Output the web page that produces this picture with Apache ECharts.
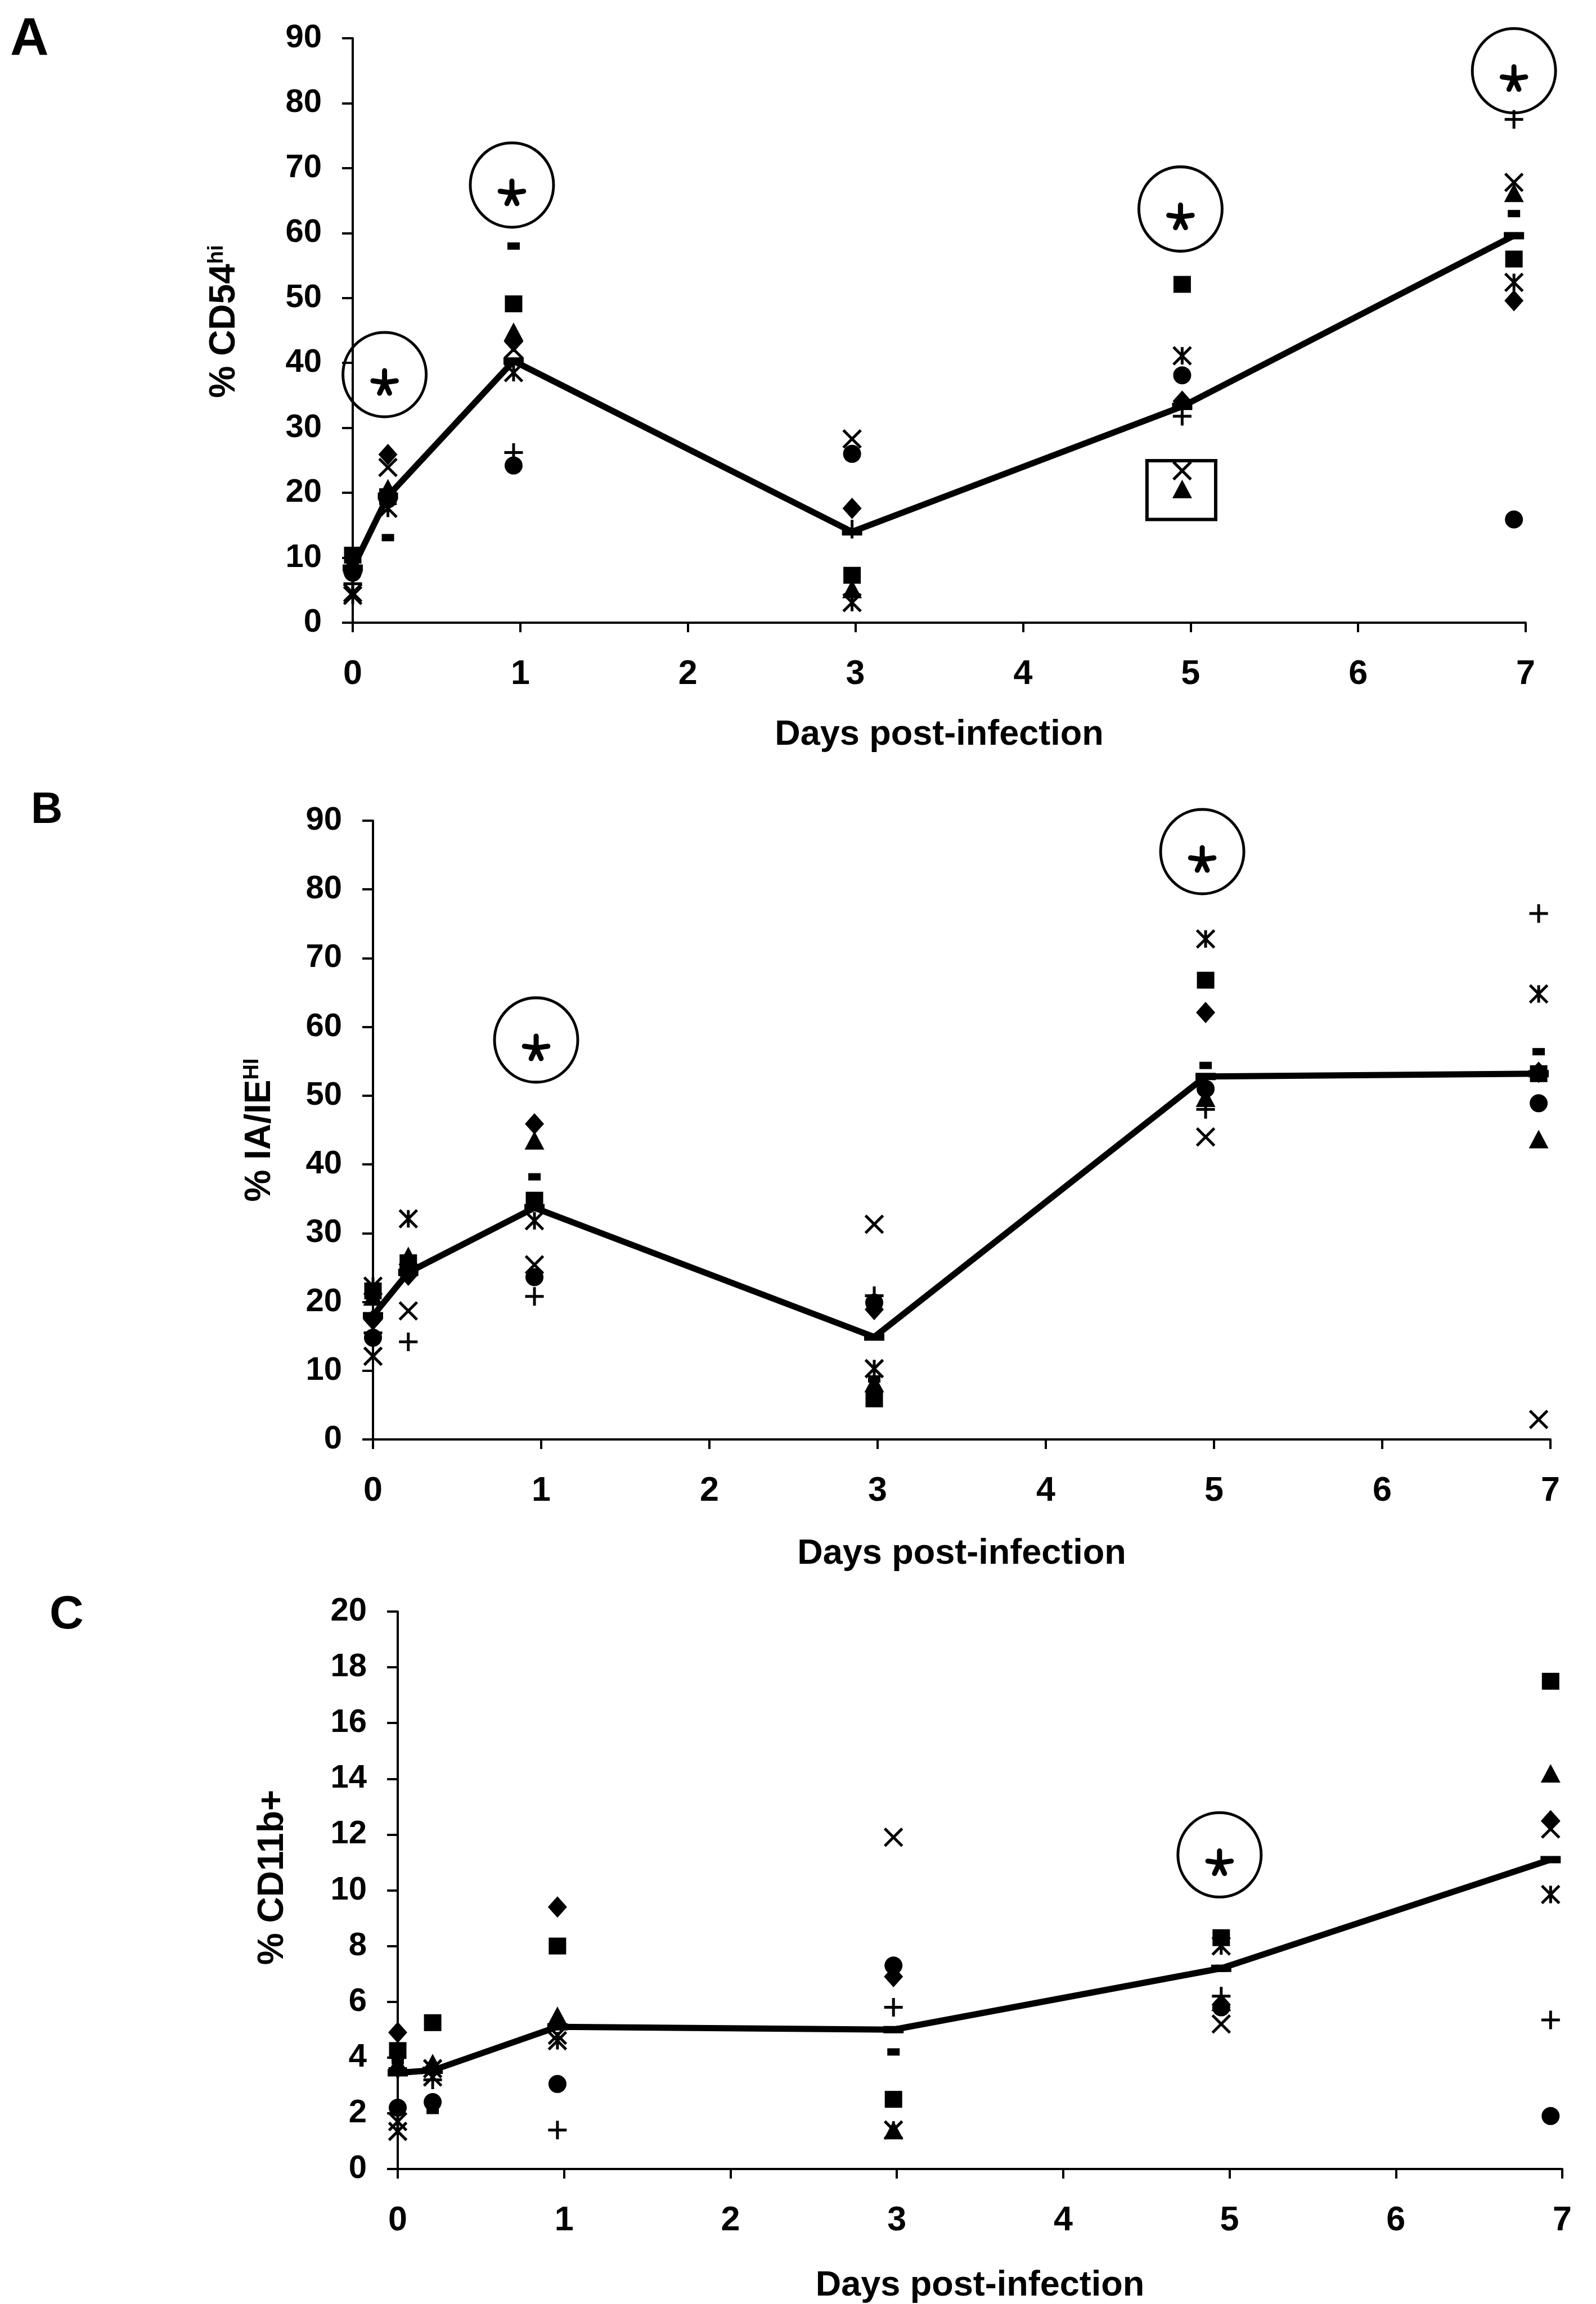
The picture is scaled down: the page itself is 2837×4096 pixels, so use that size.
<!DOCTYPE html>
<html>
<head>
<meta charset="utf-8">
<script src="https://cdn.jsdelivr.net/npm/echarts@6/dist/echarts.min.js"></script>
<style>
  html, body { margin: 0; padding: 0; background: #fff; }
  #chart { width: 2837px; height: 4096px; }
</style>
</head>
<body>
<div id="chart"></div>
<script>
// Sampling times (days post-infection)
const days = [0, 0.21, 0.96, 2.98, 4.95, 6.93];
const dayTicks = [0, 1, 2, 3, 4, 5, 6, 7];

// Panel A: % CD54hi, one array per mouse, plus the group mean
const cd54Mouse1 = [8.0, 25.9, 43.3, 17.6, 34.1, 49.6];
const cd54Mouse2 = [10.4, 19.4, 49.1, 7.3, 52.1, 56.0];
const cd54Mouse3 = [9.0, 20.7, 44.8, 5.2, 20.6, 66.2];
const cd54Mouse4 = [4.6, 23.9, 42.1, 28.3, 23.4, 67.8];
const cd54Mouse5 = [4.2, 17.6, 38.5, 3.1, 41.1, 52.4];
const cd54Mouse6 = [7.7, 19.0, 24.2, 26.0, 38.1, 15.9];
const cd54Mouse7 = [6.0, 19.8, 26.2, 14.4, 31.8, 77.5];
const cd54Mouse8 = [8.6, 13.1, 58.0, 7.4, null, 63.0];
const cd54Mean   = [8.4, 19.5, 40.3, 14.0, 33.3, 59.6];

// Panel B: % IA/IE HI
const iaieMouse1 = [17.4, 23.9, 45.9, 18.9, 62.1, 53.4];
const iaieMouse2 = [21.6, 25.7, 34.8, 5.9, 66.8, 53.2];
const iaieMouse3 = [20.8, 26.7, 43.5, 8.2, 49.7, 43.7];
const iaieMouse4 = [12.1, 18.7, 25.4, 31.3, 44.0, 2.9];
const iaieMouse5 = [22.3, 32.1, 31.8, 10.3, 72.8, 64.8];
const iaieMouse6 = [14.8, 24.7, 23.6, 19.9, 51.0, 48.9];
const iaieMouse7 = [15.5, 14.2, 20.8, 20.9, 48.0, 76.5];
const iaieMouse8 = [20.0, 25.2, 38.2, 8.8, 54.4, 56.4];
const iaieMean   = [18.0, 24.3, 33.7, 14.9, 52.8, 53.2];

// Panel C: % CD11b+
const cd11bMouse1 = [4.9, 3.6, 9.4, 6.9, 5.9, 12.5];
const cd11bMouse2 = [4.25, 5.25, 8.0, 2.5, 8.3, 17.5];
const cd11bMouse3 = [3.8, 3.8, 5.5, 1.4, 6.0, 14.2];
const cd11bMouse4 = [1.35, 3.3, 4.8, 11.9, 5.2, 12.2];
const cd11bMouse5 = [1.7, 3.6, 4.6, 1.4, 8.0, 9.85];
const cd11bMouse6 = [2.2, 2.4, 3.05, 7.3, 5.8, 1.9];
const cd11bMouse7 = [3.6, 3.2, 1.4, 5.8, 6.2, 5.35];
const cd11bMouse8 = [3.9, 2.1, 5.2, 4.2, 7.2, null];
const cd11bMean   = [3.45, 3.54, 5.1, 5.0, 7.2, 11.1];

// Significance marks (circled asterisks) and the outlier box, in data units
const sigA = [[0.19, 38.2], [0.95, 67.4], [4.94, 63.7], [6.93, 85.0]];
const sigB = [[0.97, 58.1], [4.93, 85.5]];
const sigC = [[4.94, 11.27]];
const boxA = [[4.74, 24.95], [5.15, 15.9]];

const FONT = 'Liberation Sans, Arial, Helvetica, sans-serif';

// Marker shapes used for the eight mice
const X_PATH = 'path://M0 0L10 10M10 0L0 10';
const STAR_PATH = 'path://M0 0L10 10M10 0L0 10M5 0L5 10';
const PLUS_PATH = 'path://M5 0L5 10M0 5L10 5';
const SIG_PATH = 'path://M10 10M90 90M50 50L50 10M50 50L89.6 44.4M50 50L10.4 44.4M50 50L66.9 86.3M50 50L33.1 86.3';

const filled = { color: '#000', borderWidth: 0, opacity: 1 };
const stroked = { color: 'rgba(0,0,0,0)', borderColor: '#000', borderWidth: 5, opacity: 1 };
const markers = [
  { symbol: 'diamond', size: [34, 38], style: filled },
  { symbol: 'rect', size: [31, 30], style: filled },
  { symbol: 'triangle', size: [35, 33], style: filled },
  { symbol: X_PATH, size: [31, 31], style: stroked },
  { symbol: STAR_PATH, size: [31, 31], style: stroked },
  { symbol: 'circle', size: 32, style: filled },
  { symbol: PLUS_PATH, size: [33, 33], style: stroked },
  { symbol: 'rect', size: [22, 13], style: filled }
];

function pairs(ys) {
  return ys.map((y, i) => (y == null ? null : [days[i], y])).filter(p => p);
}

function panelSeries(gi, mice, mean, sig, box) {
  const out = [];
  out.push({
    type: 'line', xAxisIndex: gi, yAxisIndex: gi, data: pairs(mean),
    symbol: 'rect', symbolSize: [36, 13], showSymbol: true, clip: false,
    lineStyle: { color: '#000', width: 11 }, itemStyle: { color: '#000', opacity: 1 },
    z: 2, silent: true, animation: false
  });
  mice.forEach((ys, k) => {
    const m = markers[k];
    out.push({
      type: 'scatter', xAxisIndex: gi, yAxisIndex: gi, data: pairs(ys),
      symbol: m.symbol, symbolSize: m.size, itemStyle: m.style,
      clip: false, z: 3, silent: true, animation: false
    });
  });
  const ring = {
    type: 'scatter', xAxisIndex: gi, yAxisIndex: gi, data: sig,
    symbol: 'circle', symbolSize: [148, 150], clip: false,
    itemStyle: { color: 'rgba(0,0,0,0)', borderColor: '#000', borderWidth: 5, opacity: 1 },
    z: 4, silent: true, animation: false
  };
  if (box) {
    ring.markArea = {
      silent: true,
      itemStyle: { color: 'rgba(0,0,0,0)', borderColor: '#000', borderWidth: 6, opacity: 1 },
      data: [[{ coord: box[0] }, { coord: box[1] }]]
    };
  }
  out.push(ring);
  out.push({
    type: 'scatter', xAxisIndex: gi, yAxisIndex: gi, data: sig,
    symbol: SIG_PATH, symbolSize: [42, 42], symbolOffset: [0, 14], clip: false,
    itemStyle: { color: 'rgba(0,0,0,0)', borderColor: '#000', borderWidth: 9, borderCap: 'round', opacity: 1 },
    z: 4, silent: true, animation: false
  });
  return out;
}

function xAxisFor(gi, nameGap) {
  return {
    gridIndex: gi, type: 'value', min: 0, max: 7, interval: 1,
    axisLine: { show: true, onZero: false, lineStyle: { color: '#000', width: 4 } },
    axisTick: { show: true, length: 17, lineStyle: { color: '#000', width: 4 } },
    axisLabel: { margin: 62, fontSize: 61, fontWeight: 'bold', color: '#000', fontFamily: FONT,
                 formatter: v => String(dayTicks[Math.round(v)]) },
    splitLine: { show: false },
    name: 'Days post-infection', nameLocation: 'middle', nameGap: nameGap,
    nameTextStyle: { fontSize: 63, fontWeight: 'bold', color: '#000', fontFamily: FONT }
  };
}

function yAxisFor(gi, max, interval, name, rich, nameGap, shift) {
  return {
    gridIndex: gi, type: 'value', min: 0, max: max, interval: interval,
    axisLine: { show: true, lineStyle: { color: '#000', width: 4 } },
    axisTick: { show: true, length: 19, lineStyle: { color: '#000', width: 4 } },
    axisLabel: { margin: 55, fontSize: 58, fontWeight: 'bold', color: '#000', fontFamily: FONT },
    splitLine: { show: false },
    name: name, nameLocation: 'middle', nameRotate: 90, nameGap: nameGap,
    nameTextStyle: {
      fontSize: 63, fontWeight: 'bold', color: '#000', fontFamily: FONT,
      padding: [0, 0, 0, shift],
      rich: rich
    }
  };
}

const titleRich = {
  m: { fontSize: 64, fontWeight: 'bold', color: '#000', fontFamily: FONT },
  s: { fontSize: 38, fontWeight: 'bold', color: '#000', fontFamily: FONT, verticalAlign: 'top' }
};

const option = {
  backgroundColor: '#fff',
  animation: false,
  grid: [
    { left: 627, top: 68, width: 2085, height: 1039 },
    { left: 663, top: 1459, width: 2093, height: 1100 },
    { left: 707, top: 2865, width: 2070, height: 992 }
  ],
  xAxis: [xAxisFor(0, 168), xAxisFor(1, 172), xAxisFor(2, 176)],
  yAxis: [
    yAxisFor(0, 90, 10, '{m|% CD54}{s|hi}', titleRich, 196, 32),
    yAxisFor(1, 90, 10, '{m|% IA/IE}{s|HI}', titleRich, 169, 0),
    yAxisFor(2, 20, 2, '{m|% CD11b+}', titleRich, 190, 46)
  ],
  graphic: [
    { type: 'text', x: 18, y: 72, style: { text: 'A', fontSize: 95, fontWeight: 'bold', fontFamily: FONT, fill: '#000', verticalAlign: 'middle', align: 'left' } },
    { type: 'text', x: 55, y: 1441, style: { text: 'B', fontSize: 78, fontWeight: 'bold', fontFamily: FONT, fill: '#000', verticalAlign: 'middle', align: 'left' } },
    { type: 'text', x: 88, y: 2872, style: { text: 'C', fontSize: 84, fontWeight: 'bold', fontFamily: FONT, fill: '#000', verticalAlign: 'middle', align: 'left' } }
  ],
  series: [].concat(
    panelSeries(0, [cd54Mouse1, cd54Mouse2, cd54Mouse3, cd54Mouse4, cd54Mouse5, cd54Mouse6, cd54Mouse7, cd54Mouse8], cd54Mean, sigA, boxA),
    panelSeries(1, [iaieMouse1, iaieMouse2, iaieMouse3, iaieMouse4, iaieMouse5, iaieMouse6, iaieMouse7, iaieMouse8], iaieMean, sigB, null),
    panelSeries(2, [cd11bMouse1, cd11bMouse2, cd11bMouse3, cd11bMouse4, cd11bMouse5, cd11bMouse6, cd11bMouse7, cd11bMouse8], cd11bMean, sigC, null)
  )
};

const chart = echarts.init(document.getElementById('chart'), null, { renderer: 'canvas' });
chart.setOption(option);
</script>
</body>
</html>
